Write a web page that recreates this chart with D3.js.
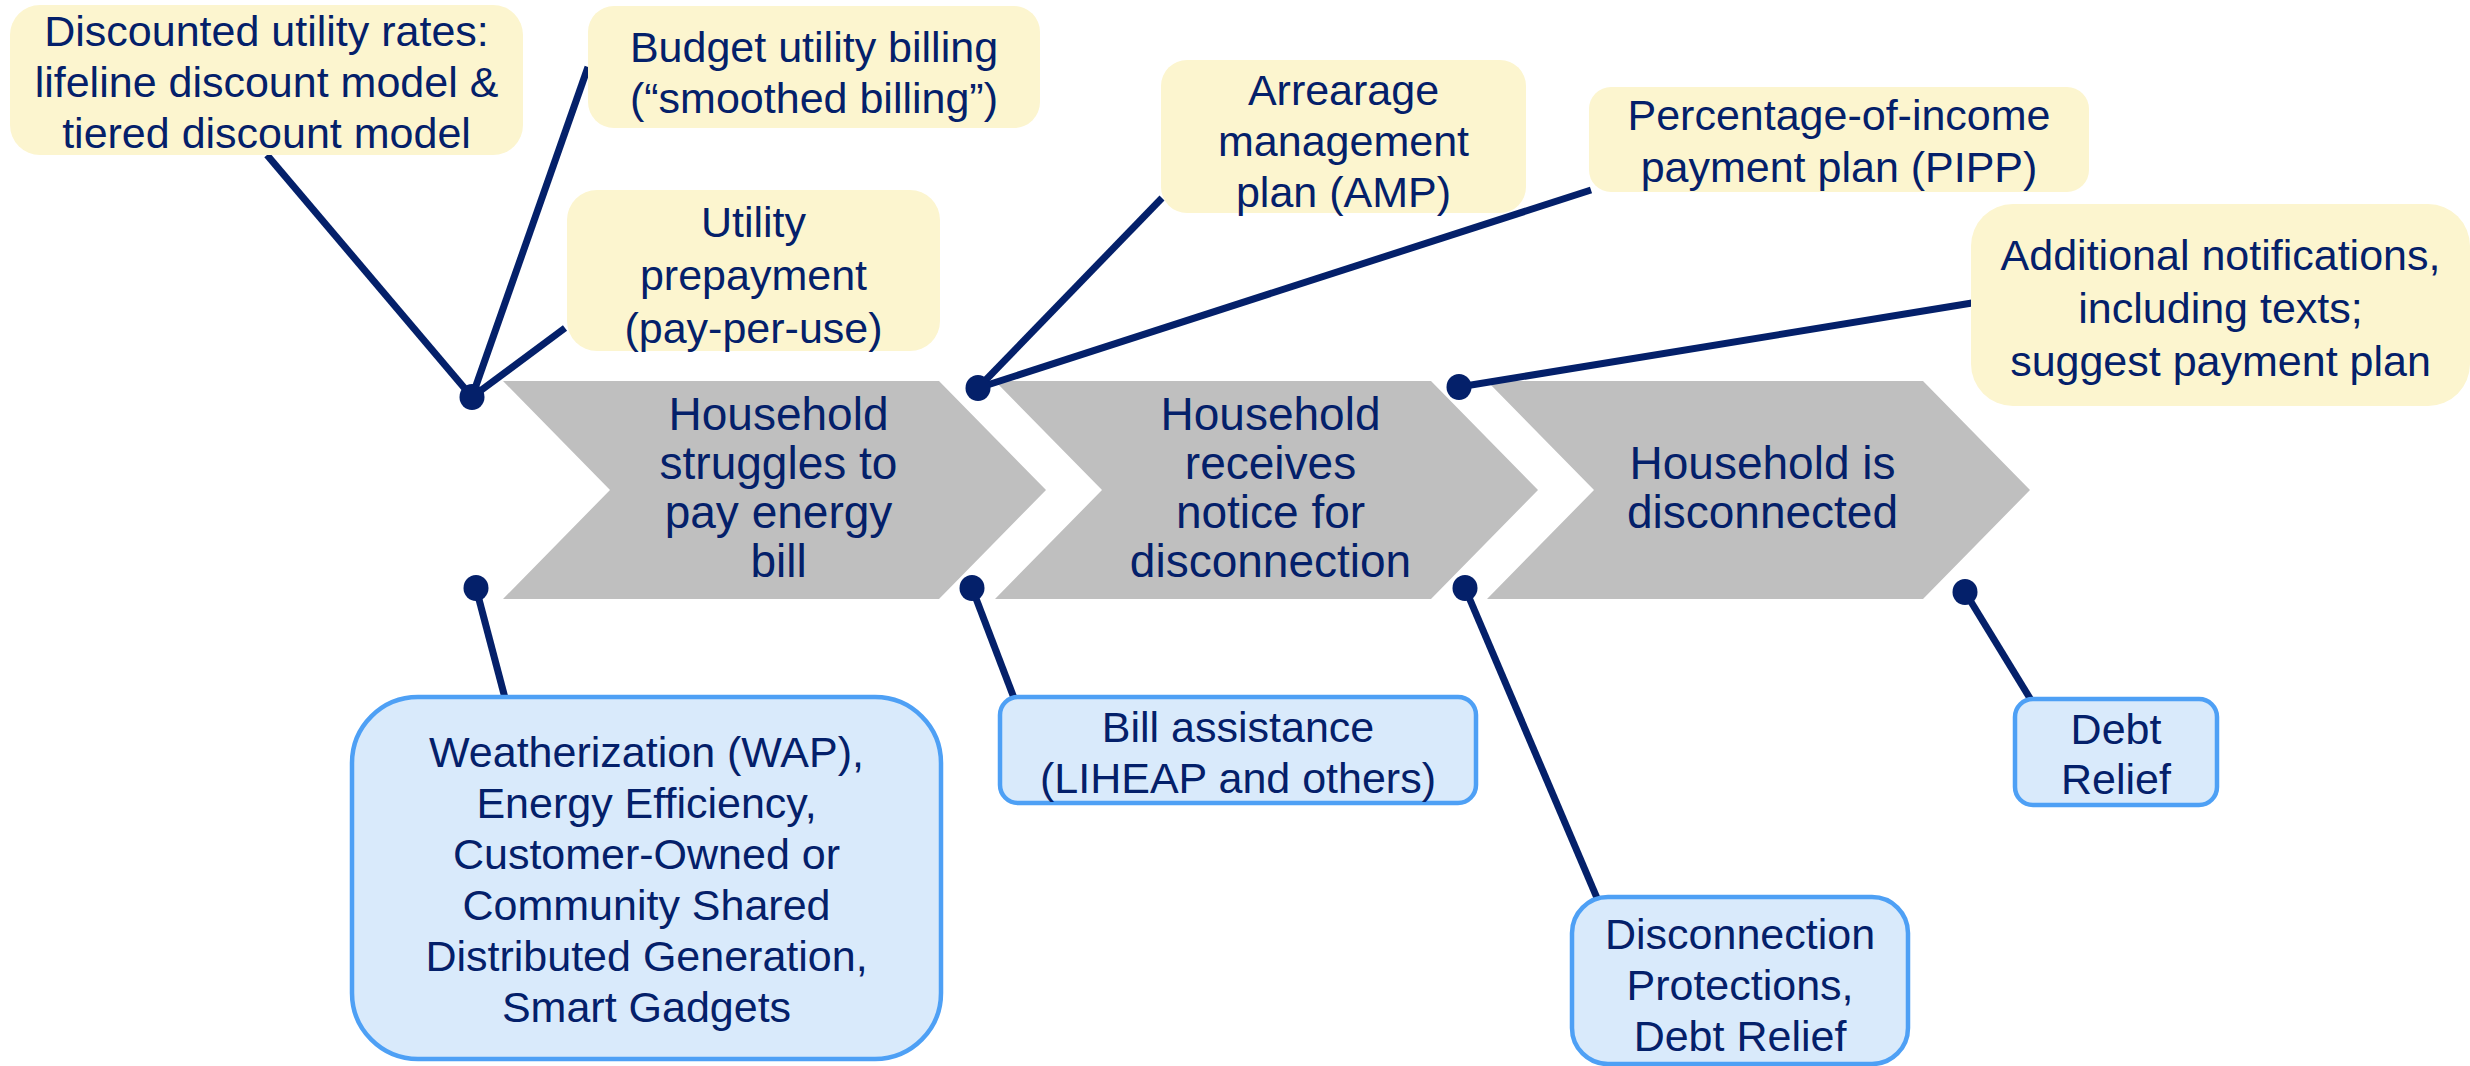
<!DOCTYPE html>
<html>
<head>
<meta charset="utf-8">
<script src="https://cdn.jsdelivr.net/npm/d3@7"></script>
<style>
  html, body { margin: 0; padding: 0; background: #fff; }
  svg { display: block; }
</style>
</head>
<body>
<svg id="chart" width="2470" height="1066"></svg>
<script>
// stages of the process (one chevron each)
const stages = [
    ["Household", "struggles to", "pay energy", "bill"],
    ["Household", "receives", "notice for", "disconnection"],
    ["Household is", "disconnected"]
];

// interventions above the chevrons (yellow boxes)
const upperLabels = [
    ["Discounted utility rates:", "lifeline discount model &", "tiered discount model"],
    ["Budget utility billing", "(\u201csmoothed billing\u201d)"],
    ["Utility", "prepayment", "(pay-per-use)"],
    ["Arrearage", "management", "plan (AMP)"],
    ["Percentage-of-income", "payment plan (PIPP)"],
    ["Additional notifications,", "including texts;", "suggest payment plan"]
];

// interventions below the chevrons (blue boxes)
const lowerLabels = [
    ["Weatherization (WAP),", "Energy Efficiency,", "Customer-Owned or", "Community Shared", "Distributed Generation,", "Smart Gadgets"],
    ["Bill assistance", "(LIHEAP and others)"],
    ["Debt", "Relief"],
    ["Disconnection", "Protections,", "Debt Relief"]
];

// ---- layout (kept apart from the labels) ----
let svg = d3.select("#chart");
let navy = "#04206a";
let font = "'Liberation Sans', Arial, sans-serif";

let xStage = d3.scaleLinear().domain([0, 1]).range([503, 995]);
let chevW = 436, chevDepth = 107, chevTop = 381, chevBot = 599;
let chevMid = (chevTop + chevBot) / 2;

let upperBoxes = [
    {x: 10, y: 5, w: 513, h: 150, r: 30, cy: 82, lh: 51},
    {x: 588, y: 6, w: 452, h: 122, r: 26, cy: 72, lh: 51},
    {x: 567, y: 190, w: 373, h: 161, r: 30, cy: 275, lh: 53},
    {x: 1161, y: 60, w: 365, h: 153, r: 26, cy: 141, lh: 51},
    {x: 1589, y: 87, w: 500, h: 105, r: 22, cy: 141, lh: 52},
    {x: 1971, y: 204, w: 499, h: 202, r: 42, cy: 308, lh: 53}
];

let lowerBoxes = [
    {x: 352, y: 697, w: 589, h: 362, r: 66, cy: 879, lh: 51},
    {x: 1000, y: 697, w: 476, h: 106, r: 18, cy: 752, lh: 51},
    {x: 2015, y: 699, w: 202, h: 106, r: 18, cy: 754, lh: 50},
    {x: 1572, y: 897, w: 336, h: 167, r: 36, cy: 985, lh: 51}
];

// connectors: dot position and the point on the box it reaches
let connectors = [
    {dot: [472, 397], to: [[267, 155], [588, 67], [565, 328]]},
    {dot: [978, 388], to: [[1162, 198], [1591, 190]]},
    {dot: [1459, 387], to: [[1972, 303]]},
    {dot: [476, 588], to: [[505, 698]]},
    {dot: [972, 588], to: [[1014, 698]]},
    {dot: [1465, 588], to: [[1597, 898]]},
    {dot: [1965, 592], to: [[2031, 700]]}
];

function drawLines(g, lines, cx, cy, lh, size) {
    let n = lines.length;
    g.append("text")
        .attr("font-family", font)
        .attr("font-size", size)
        .attr("fill", navy)
        .attr("text-anchor", "middle")
        .selectAll("tspan")
        .data(lines)
        .enter().append("tspan")
        .attr("x", cx)
        .attr("y", (d, i) => cy + (i - (n - 1) / 2) * lh + size * 0.36)
        .text(d => d);
}

// chevrons
let chevG = svg.append("g");
stages.forEach((lines, i) => {
    let x0 = xStage(i);
    let pts = [
        [x0, chevTop], [x0 + chevW, chevTop], [x0 + chevW + chevDepth, chevMid],
        [x0 + chevW, chevBot], [x0, chevBot], [x0 + chevDepth, chevMid]
    ];
    chevG.append("path")
        .attr("d", d3.line()(pts) + "Z")
        .attr("fill", "#bfbfbf");
    drawLines(chevG, lines, x0 + chevDepth / 2 + chevW / 2 + 4, chevMid - 3, 49, 46);
});

// connector lines and dots
let conG = svg.append("g");
connectors.forEach(c => {
    c.to.forEach(p => {
        conG.append("line")
            .attr("x1", c.dot[0]).attr("y1", c.dot[1])
            .attr("x2", p[0]).attr("y2", p[1])
            .attr("stroke", navy)
            .attr("stroke-width", 7);
    });
    conG.append("ellipse")
        .attr("cx", c.dot[0]).attr("cy", c.dot[1])
        .attr("rx", 12.5).attr("ry", 13)
        .attr("fill", navy);
});

// yellow boxes
let upG = svg.append("g");
upperLabels.forEach((lines, i) => {
    let b = upperBoxes[i];
    upG.append("rect")
        .attr("x", b.x).attr("y", b.y)
        .attr("width", b.w).attr("height", b.h)
        .attr("rx", b.r).attr("ry", b.r)
        .attr("fill", "#fcf5cf");
    drawLines(upG, lines, b.x + b.w / 2, b.cy, b.lh, 43);
});

// blue boxes
let lowG = svg.append("g");
lowerLabels.forEach((lines, i) => {
    let b = lowerBoxes[i];
    lowG.append("rect")
        .attr("x", b.x).attr("y", b.y)
        .attr("width", b.w).attr("height", b.h)
        .attr("rx", b.r).attr("ry", b.r)
        .attr("fill", "#d9eafb")
        .attr("stroke", "#4ea0f5")
        .attr("stroke-width", 4.5);
    drawLines(lowG, lines, b.x + b.w / 2, b.cy, b.lh, 43);
});
</script>
</body>
</html>
